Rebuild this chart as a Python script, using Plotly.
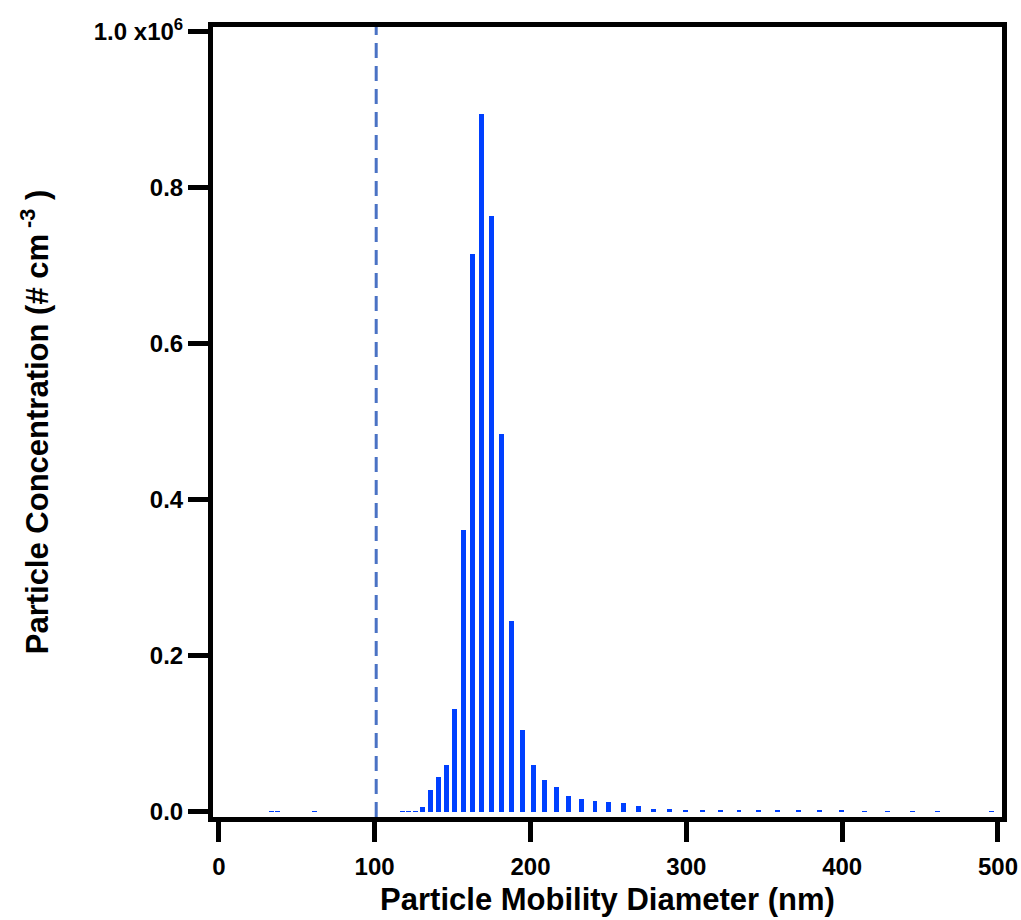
import plotly.graph_objects as go

# Particle mobility diameter channels (nm) and number concentration (# cm^-3)
diameter_nm = [34.0, 37.9, 61.5, 117.6, 121.9, 126.3, 131.0, 135.8, 140.7, 145.9,
               151.2, 156.8, 162.5, 168.5, 174.7, 181.1, 187.7, 194.6, 201.7, 209.1,
               216.7, 224.7, 232.9, 241.4, 250.3, 259.5, 269.0, 278.8, 289.0, 299.6,
               310.6, 322.0, 333.8, 346.0, 358.7, 371.8, 385.4, 399.5, 414.2, 429.4,
               445.1, 461.4, 478.3, 495.8]
concentration = [400, 400, 400, 500, 400, 800, 6500, 27500, 44000, 60000,
                 132000, 361000, 715000, 895000, 764000, 484000, 245000, 104500, 60500, 41000,
                 31500, 20500, 16000, 14000, 13000, 11000, 7000, 4000, 3000, 2500,
                 1500, 1300, 1300, 1300, 2300, 1300, 1300, 1300, 1000, 600,
                 500, 500, 0, 500]

cutoff_nm = 101

x_ticks = [0, 100, 200, 300, 400, 500]
y_tickvals = [0, 200000, 400000, 600000, 800000, 1000000]
y_ticktext = ["0.0", "0.2", "0.4", "0.6", "0.8", "1.0 x10<sup>6</sup>"]

FONT = "Liberation Sans, Arial, sans-serif"

fig = go.Figure()
fig.add_trace(go.Bar(
    x=diameter_nm, y=concentration, width=3.2,
    marker=dict(color="#0040ff", line=dict(width=0)),
    showlegend=False,
))

fig.add_vline(x=cutoff_nm, line=dict(color="#4a72c4", width=3, dash="15px,8px"))

fig.update_layout(
    width=1021, height=920,
    margin=dict(l=212.5, r=19, t=26.5, b=103),
    paper_bgcolor="white", plot_bgcolor="white",
    font=dict(family=FONT, color="black", size=24, weight="bold"),
    bargap=0,
)

fig.update_xaxes(
    range=[-3.72, 502.57], tickvals=x_ticks, automargin=False,
    showline=True, mirror=True, linecolor="black", linewidth=5,
    ticks="outside", ticklen=20, tickwidth=5, tickcolor="black",
    showgrid=False, zeroline=False, ticklabelstandoff=4,
    tickfont=dict(family=FONT, size=24, weight="bold"),
    title=dict(text="Particle Mobility Diameter (nm)",
               font=dict(family=FONT, size=31, weight="bold"), standoff=11),
)
fig.update_yaxes(
    range=[-6660, 1006280], tickvals=y_tickvals, ticktext=y_ticktext, automargin=False,
    showline=True, mirror=True, linecolor="black", linewidth=5,
    ticks="outside", ticklen=20, tickwidth=5, tickcolor="black",
    showgrid=False, zeroline=False,
    tickfont=dict(family=FONT, size=24, weight="bold"),
    title=dict(text="Particle Concentration (# cm<sup> -3</sup> )",
               font=dict(family=FONT, size=31, weight="bold"), standoff=37),
)

fig.write_html("out.html", config={"displayModeBar": False},
               post_script="document.body.style.margin='0';document.body.style.overflow='hidden';")
